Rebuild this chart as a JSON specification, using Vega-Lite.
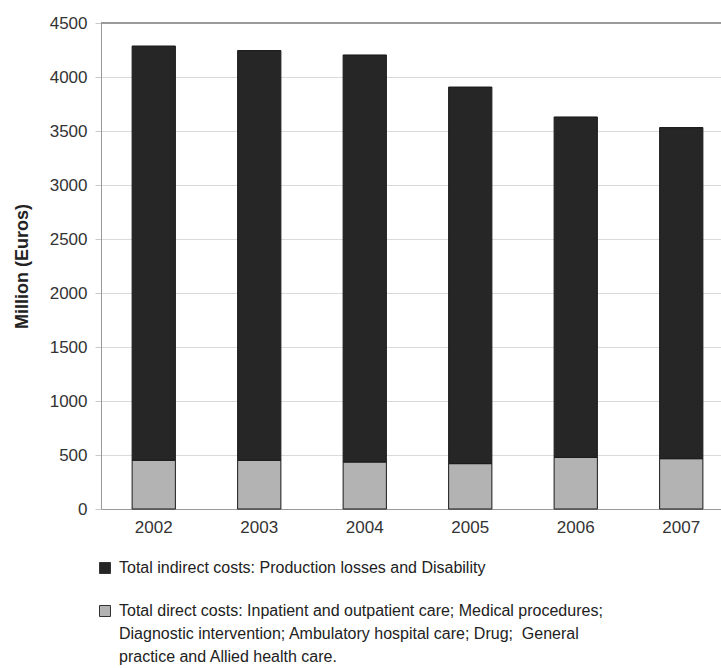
{
  "$schema": "https://vega.github.io/schema/vega-lite/v6.json",
  "width": 620,
  "height": 486,
  "padding": {"left": 13, "top": 14, "right": 0, "bottom": 5},
  "background": "white",
  "data": {
    "values": [
      {"year": "2002", "category": "Total direct costs: Inpatient and outpatient care; Medical procedures; Diagnostic intervention; Ambulatory hospital care; Drug;  General practice and Allied health care.", "value": 451},
      {"year": "2003", "category": "Total direct costs: Inpatient and outpatient care; Medical procedures; Diagnostic intervention; Ambulatory hospital care; Drug;  General practice and Allied health care.", "value": 451},
      {"year": "2004", "category": "Total direct costs: Inpatient and outpatient care; Medical procedures; Diagnostic intervention; Ambulatory hospital care; Drug;  General practice and Allied health care.", "value": 435},
      {"year": "2005", "category": "Total direct costs: Inpatient and outpatient care; Medical procedures; Diagnostic intervention; Ambulatory hospital care; Drug;  General practice and Allied health care.", "value": 420},
      {"year": "2006", "category": "Total direct costs: Inpatient and outpatient care; Medical procedures; Diagnostic intervention; Ambulatory hospital care; Drug;  General practice and Allied health care.", "value": 478},
      {"year": "2007", "category": "Total direct costs: Inpatient and outpatient care; Medical procedures; Diagnostic intervention; Ambulatory hospital care; Drug;  General practice and Allied health care.", "value": 466},
      {"year": "2002", "category": "Total indirect costs: Production losses and Disability", "value": 3836},
      {"year": "2003", "category": "Total indirect costs: Production losses and Disability", "value": 3794},
      {"year": "2004", "category": "Total indirect costs: Production losses and Disability", "value": 3769},
      {"year": "2005", "category": "Total indirect costs: Production losses and Disability", "value": 3487},
      {"year": "2006", "category": "Total indirect costs: Production losses and Disability", "value": 3152},
      {"year": "2007", "category": "Total indirect costs: Production losses and Disability", "value": 3066}
    ]
  },
  "layer": [
    {
      "mark": {"type": "bar", "stroke": "#1a1a1a", "strokeWidth": 1},
      "encoding": {
        "x": {
          "field": "year",
          "type": "ordinal",
          "scale": {"paddingInner": 0.59, "paddingOuter": 0.295, "range": [0, 633]},
          "axis": {"title": null, "labelAngle": 0, "ticks": false, "domain": true, "domainColor": "#999999", "labelPadding": 10, "labelFontSize": 17}
        },
        "y": {
          "field": "value",
          "type": "quantitative",
          "aggregate": "sum",
          "stack": "zero",
          "scale": {"domain": [0, 4500], "nice": false},
          "axis": {
            "title": "Million (Euros)",
            "format": "d",
            "values": [0, 500, 1000, 1500, 2000, 2500, 3000, 3500, 4000, 4500],
            "tickSize": 6,
            "tickColor": "#c8c8c8",
            "domainColor": "#999999",
            "gridColor": "#dadada",
            "labelPadding": 8,
            "labelFontSize": 17,
            "titleFontSize": 18,
            "titlePadding": 18
          }
        },
        "color": {
          "field": "category",
          "type": "nominal",
          "scale": {
            "domain": ["Total indirect costs: Production losses and Disability", "Total direct costs: Inpatient and outpatient care; Medical procedures; Diagnostic intervention; Ambulatory hospital care; Drug;  General practice and Allied health care."],
            "range": ["#262626", "#b3b3b3"]
          },
          "legend": {
            "orient": "none",
            "legendX": -4,
            "legendY": 537,
            "direction": "vertical",
            "title": null,
            "symbolType": "square",
            "symbolSize": 121,
            "symbolStrokeColor": "#333333",
            "symbolStrokeWidth": 1,
            "labelLimit": 700,
            "labelOffset": 6,
            "labelFontSize": 16,
            "labelExpr": "indexof(datum.label, 'Total direct') == 0 ? ['Total direct costs: Inpatient and outpatient care; Medical procedures;', 'Diagnostic intervention; Ambulatory hospital care; Drug;\u00a0 General', 'practice and Allied health care.'] : datum.label",
            "rowPadding": 27
          }
        },
        "order": {"field": "category", "sort": "ascending"}
      }
    },
    {
      "mark": {"type": "rule", "color": "#999999", "strokeWidth": 1},
      "encoding": {"y": {"datum": 4500}}
    }
  ],
  "config": {
    "font": "Liberation Sans",
    "view": {"stroke": null},
    "axis": {"labelFont": "Liberation Sans", "labelColor": "#333333", "titleFont": "Liberation Sans", "titleFontWeight": "bold", "titleColor": "#222222"},
    "legend": {"labelFont": "Liberation Sans", "labelColor": "#222222"},
    "style": {"guide-label": {"lineHeight": 23}}
  }
}
